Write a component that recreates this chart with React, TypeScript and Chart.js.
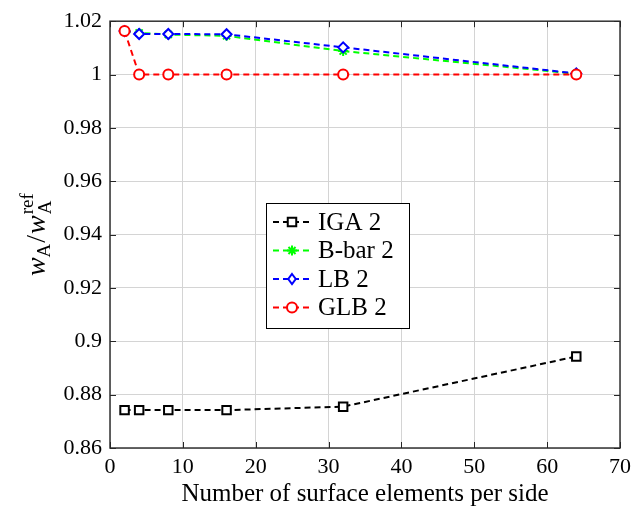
import React, { useEffect, useRef } from "react";
import { Chart, registerables } from "chart.js";

Chart.register(...registerables);

const elements = [2, 4, 8, 16, 32, 64];
const igaValues = [0.8742, 0.8742, 0.8742, 0.8742, 0.8755, 0.8943];
const bbarValues = [1.0163, 1.0156, 1.015, 1.0145, 1.0088, 1.0003];
const lbValues = [1.0163, 1.0152, 1.0152, 1.0151, 1.0102, 1.0004];
const glbValues = [1.0163, 1.0, 1.0, 1.0, 1.0, 1.0];
const seriesNames = ["IGA 2", "B-bar 2", "LB 2", "GLB 2"];
const seriesColors = ["#000000", "#00ff00", "#0000ff", "#ff0000"];
const seriesMarkers = ["rect", "star", "rectRot", "circle"];
const xTicks = [0, 10, 20, 30, 40, 50, 60, 70];
const yTicks = [0.86, 0.88, 0.9, 0.92, 0.94, 0.96, 0.98, 1.0, 1.02];

const FONT = "'Liberation Serif', 'DejaVu Serif', serif";

function drawMarker(ctx: any, style: string, r: number, x: number, y: number, color: string) {
  ctx.save();
  ctx.strokeStyle = color;
  ctx.fillStyle = "#fff";
  ctx.lineWidth = 2;
  ctx.beginPath();
  if (style === "rect") {
    const s = Math.SQRT1_2 * r;
    ctx.rect(x - s, y - s, 2 * s, 2 * s);
    ctx.fill();
    ctx.stroke();
  } else if (style === "rectRot") {
    ctx.moveTo(x, y - r);
    ctx.lineTo(x + r * 0.75, y);
    ctx.lineTo(x, y + r);
    ctx.lineTo(x - r * 0.75, y);
    ctx.closePath();
    ctx.fill();
    ctx.stroke();
  } else if (style === "circle") {
    ctx.arc(x, y, r, 0, Math.PI * 2);
    ctx.fill();
    ctx.stroke();
  } else if (style === "star") {
    for (let k = 0; k < 4; k++) {
      const ang = (k * Math.PI) / 4;
      ctx.moveTo(x + Math.cos(ang) * r, y + Math.sin(ang) * r);
      ctx.lineTo(x - Math.cos(ang) * r, y - Math.sin(ang) * r);
    }
    ctx.stroke();
  }
  ctx.restore();
}

const frame = {
  id: "frame",
  afterDraw(chart: any) {
    const { ctx, chartArea: a, scales } = chart;
    ctx.save();
    ctx.strokeStyle = "#333";
    ctx.lineWidth = 1.5;
    ctx.strokeRect(a.left, a.top, a.right - a.left, a.bottom - a.top);
    ctx.lineWidth = 1;
    ctx.strokeStyle = "#262626";
    const tl = 6;
    xTicks.forEach((v) => {
      const x = Math.round(scales.x.getPixelForValue(v)) + 0.5;
      ctx.beginPath();
      ctx.moveTo(x, a.bottom);
      ctx.lineTo(x, a.bottom - tl);
      ctx.moveTo(x, a.top);
      ctx.lineTo(x, a.top + tl);
      ctx.stroke();
    });
    yTicks.forEach((v) => {
      const y = Math.round(scales.y.getPixelForValue(v)) + 0.5;
      ctx.beginPath();
      ctx.moveTo(a.left, y);
      ctx.lineTo(a.left + tl, y);
      ctx.moveTo(a.right, y);
      ctx.lineTo(a.right - tl, y);
      ctx.stroke();
    });

    // y-axis label: w_A / w_A^ref
    const big = "italic 28px " + FONT;
    const small = "19px " + FONT;
    const parts: any[] = [
      { t: "w", f: big, dy: 0 },
      { t: "A", f: small, dy: 5, pad: 1 },
      { t: "/", f: "28px " + FONT, dy: 0, pad: 1 },
      { t: "w", f: big, dy: 0, pad: 1 },
    ];
    let total = 0;
    parts.forEach((p) => {
      ctx.font = p.f;
      p.w = ctx.measureText(p.t).width + (p.pad || 0);
      total += p.w;
    });
    ctx.font = small;
    const refW = ctx.measureText("ref").width;
    total += refW;
    const cx = 37;
    const cy = (a.top + a.bottom) / 2;
    ctx.translate(cx, cy);
    ctx.rotate(-Math.PI / 2);
    ctx.fillStyle = "#000";
    ctx.textBaseline = "alphabetic";
    ctx.textAlign = "left";
    let x = -total / 2;
    const base = 8;
    parts.forEach((p) => {
      ctx.font = p.f;
      ctx.fillText(p.t, x, base + p.dy);
      x += p.w;
    });
    ctx.font = small;
    ctx.fillText("ref", x, base - 12);
    ctx.fillText("A", x, base + 6);

    ctx.restore();
  },
};

const legend = {
  id: "customLegend",
  afterDraw(chart: any) {
    const { ctx } = chart;
    ctx.save();
    const bx = 266, by = 203, bw = 143, bh = 125;
    ctx.fillStyle = "#fff";
    ctx.fillRect(bx, by, bw, bh);
    ctx.strokeStyle = "#000";
    ctx.lineWidth = 1;
    ctx.strokeRect(bx + 0.5, by + 0.5, bw, bh);
    const rowH = 28.5;
    seriesNames.forEach((name, i) => {
      const y = by + 19 + i * rowH;
      ctx.strokeStyle = seriesColors[i];
      ctx.lineWidth = 2;
      ctx.setLineDash([6, 4]);
      ctx.beginPath();
      ctx.moveTo(273, y);
      ctx.lineTo(309, y);
      ctx.stroke();
      ctx.setLineDash([]);
      const style = seriesMarkers[i];
      const r = style === "rect" ? 6 : 5;
      drawMarker(ctx, style, r, 292, y, seriesColors[i]);
      ctx.fillStyle = "#000";
      ctx.font = "25px " + FONT;
      ctx.textBaseline = "middle";
      ctx.textAlign = "left";
      ctx.fillText(name, 318, y + 1);
    });
    ctx.restore();
  },
};

export default function App() {
  const ref = useRef<HTMLCanvasElement>(null);
  useEffect(() => {
    document.body.style.margin = "0";
    const mk = (label: string, data: number[], i: number, order: number) => ({
      label,
      data: elements.map((x, k) => ({ x, y: data[k] })),
      borderColor: seriesColors[i],
      backgroundColor: "#ffffff",
      pointBorderColor: seriesColors[i],
      pointBackgroundColor: "#ffffff",
      pointStyle: seriesMarkers[i],
      pointRadius: seriesMarkers[i] === "rect" ? 6 : 5,
      pointBorderWidth: 2,
      borderWidth: 2,
      borderDash: [6, 4],
      fill: false,
      tension: 0,
      order,
    });
    const chart = new Chart(ref.current as HTMLCanvasElement, {
      type: "line",
      data: {
        datasets: [
          mk(seriesNames[0], igaValues, 0, 3),
          mk(seriesNames[1], bbarValues, 1, 2),
          mk(seriesNames[2], lbValues, 2, 1),
          mk(seriesNames[3], glbValues, 3, 0),
        ] as any,
      },
      options: {
        animation: false,
        responsive: false,
        layout: { padding: { left: 0, right: 24, top: 21, bottom: 0 } },
        plugins: { legend: { display: false }, tooltip: { enabled: false } },
        scales: {
          x: {
            type: "linear",
            min: 0,
            max: 70,
            afterBuildTicks: (s: any) => {
              s.ticks = xTicks.map((v) => ({ value: v }));
            },
            afterFit: (s: any) => {
              s.height = 63;
            },
            grid: { color: "#d4d4d4", lineWidth: 1, drawTicks: false },
            border: { display: false },
            ticks: {
              color: "#000",
              font: { family: FONT, size: 22 },
              padding: 6,
              maxRotation: 0,
              callback: (v: any) => String(v),
            },
            title: {
              display: true,
              text: "Number of surface elements per side",
              color: "#000",
              font: { family: FONT, size: 25 },
              padding: { top: 2, bottom: 2 },
            },
          },
          y: {
            type: "linear",
            min: 0.86,
            max: 1.02,
            afterBuildTicks: (s: any) => {
              s.ticks = yTicks.map((v) => ({ value: v }));
            },
            afterFit: (s: any) => {
              s.width = 110;
            },
            grid: { color: "#d4d4d4", lineWidth: 1, drawTicks: false },
            border: { display: false },
            ticks: {
              color: "#000",
              font: { family: FONT, size: 22 },
              padding: 8,
              callback: (v: any) => String(Number(Number(v).toFixed(2))),
            },
          },
        },
      },
      plugins: [frame, legend],
    } as any);
    return () => chart.destroy();
  }, []);
  return <canvas ref={ref} width={644} height={511} style={{ display: "block" }} />;
}
